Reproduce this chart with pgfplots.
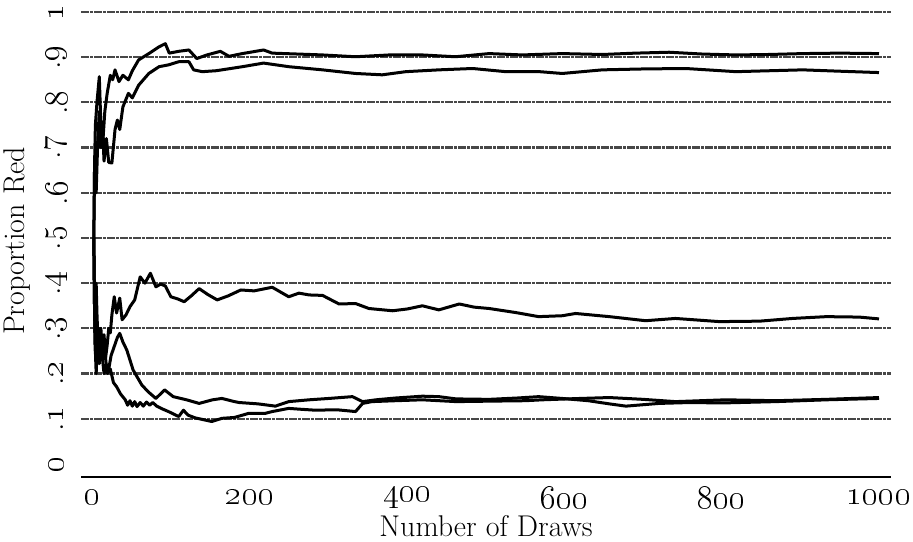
\documentclass[border=0pt]{standalone}
\usepackage{pgfplots}
\pgfplotsset{compat=1.18}
\usetikzlibrary{calc}
\tikzset{myline/.style={black, solid, line width=1.5pt, line join=round, mark=none}}
\begin{document}
\begin{tikzpicture}
\begin{axis}[
  name=ax,
  scale only axis,
  width=405pt, height=236pt,
  xmin=-15.3, xmax=1015.3,
  ymin=-0.0288, ymax=1.0155,
  enlargelimits=false,
  separate axis lines,
  axis x line*=bottom,
  axis y line*=left,
  y axis line style={draw=none},
  x axis line style={line width=0.7pt},
  xtick={0,200,400,600,800,1000},
  xticklabels={\oldstylenums{0},\oldstylenums{200},\oldstylenums{400},\oldstylenums{600},\oldstylenums{800},\oldstylenums{1000}},
  ytick={0.1,0.2,0.3,0.4,0.5,0.6,0.7,0.8,0.9,1},
  yticklabels={.\oldstylenums{1},.\oldstylenums{2},.\oldstylenums{3},.\oldstylenums{4},.\oldstylenums{5},.\oldstylenums{6},.\oldstylenums{7},.\oldstylenums{8},.\oldstylenums{9},\oldstylenums{1}},
  extra y ticks={0},
  extra y tick labels={\oldstylenums{0}},
  extra y tick style={grid=none},
  ymajorgrids,
  major grid style={black!72, line width=1.1pt, dash pattern=on 4pt off 0.5pt on 1.5pt off 0.5pt},
  tick style={draw=none},
  xticklabel style={anchor=center, inner sep=0pt, yshift=-10pt, font=\fontsize{16}{18}\selectfont},
  yticklabel style={xshift=-12.5pt, rotate=90, anchor=center, inner sep=0pt, font=\fontsize{17}{19}\selectfont},
  xlabel={Number of Draws},
  ylabel={Proportion Red},
  xlabel style={at={(axis description cs:0.5,0)}, anchor=center, inner sep=0pt, yshift=-24.5pt, font=\fontsize{15}{17}\selectfont},
  ylabel style={at={(axis description cs:-0.079,0.5)}, anchor=center, inner sep=0pt, font=\fontsize{15}{17}\selectfont},
]
% Series A (upper, ~0.91)
\addplot[myline] coordinates {(1,0.5) (2,0.667) (3,0.75) (5,0.8) (8,0.857) (10,0.75) (12,0.7) (15,0.78) (18,0.82) (22,0.86) (25,0.85) (28,0.872) (33,0.846) (38,0.86) (45,0.85) (50,0.87) (58,0.894) (71,0.908) (84,0.923) (92,0.93) (97,0.909) (109,0.913) (122,0.916) (132,0.897) (145,0.905) (162,0.913) (173,0.902) (190,0.908) (217,0.916) (228,0.909) (260,0.907) (292,0.905) (334,0.901) (377,0.905) (419,0.905) (461,0.901) (504,0.908) (546,0.905) (597,0.908) (648,0.906) (690,0.909) (733,0.911) (775,0.907) (818,0.905) (860,0.906) (903,0.908) (950,0.909) (1000,0.908)};
% Series B (~0.87)
\addplot[myline] coordinates {(1,0.5) (2,0.667) (4,0.6) (6,0.714) (8,0.78) (10,0.7) (12,0.75) (14,0.67) (17,0.72) (20,0.667) (24,0.666) (28,0.74) (31,0.761) (34,0.74) (38,0.79) (45,0.82) (50,0.81) (58,0.838) (71,0.864) (84,0.879) (96,0.883) (109,0.89) (122,0.89) (128,0.872) (139,0.868) (156,0.87) (164,0.872) (190,0.879) (217,0.887) (249,0.879) (292,0.872) (334,0.864) (368,0.861) (398,0.868) (440,0.872) (483,0.875) (525,0.868) (568,0.868) (597,0.864) (648,0.872) (700,0.874) (754,0.875) (818,0.868) (860,0.870) (903,0.872) (950,0.869) (1000,0.866)};
% Series C (~0.32)
\addplot[myline] coordinates {(1,0.5) (2,0.333) (3,0.25) (4,0.4) (5,0.333) (6,0.286) (8,0.25) (10,0.3) (12,0.25) (14,0.286) (16,0.235) (18,0.263) (20,0.3) (22,0.29) (24,0.33) (27,0.37) (30,0.334) (34,0.367) (37,0.319) (42,0.33) (47,0.348) (53,0.363) (60,0.414) (66,0.4) (73,0.422) (80,0.392) (86,0.398) (92,0.394) (99,0.37) (108,0.365) (116,0.359) (125,0.372) (135,0.388) (146,0.375) (158,0.363) (172,0.372) (188,0.385) (205,0.383) (228,0.391) (249,0.37) (262,0.378) (275,0.374) (292,0.373) (313,0.354) (334,0.355) (351,0.344) (381,0.339) (400,0.343) (419,0.35) (440,0.341) (466,0.354) (485,0.347) (504,0.344) (538,0.335) (567,0.326) (597,0.328) (614,0.333) (657,0.326) (703,0.317) (741,0.322) (797,0.315) (848,0.316) (890,0.322) (933,0.326) (975,0.325) (1000,0.321)};
% Series D (peak ~0.29 early, ~0.14)
\addplot[myline] coordinates {(1,0.5) (2,0.333) (3,0.25) (5,0.3) (7,0.25) (9,0.3) (11,0.25) (14,0.2) (17,0.22) (20,0.21) (23,0.24) (27,0.26) (31,0.28) (34,0.289) (38,0.27) (43,0.252) (51,0.208) (62,0.175) (70,0.16) (80,0.145) (91,0.164) (102,0.149) (119,0.142) (135,0.134) (152,0.142) (164,0.145) (180,0.138) (186,0.136) (210,0.133) (232,0.128) (249,0.138) (275,0.142) (300,0.145) (330,0.149) (343,0.138) (360,0.142) (385,0.146) (419,0.15) (440,0.149) (462,0.144) (504,0.143) (540,0.146) (567,0.149) (597,0.145) (630,0.14) (657,0.133) (678,0.128) (720,0.134) (760,0.136) (800,0.135) (869,0.138) (933,0.142) (1000,0.145)};
% Series E (low, ~0.1 then ~0.14)
\addplot[myline] coordinates {(1,0.5) (2,0.333) (3,0.25) (4,0.2) (6,0.286) (8,0.222) (10,0.273) (12,0.231) (15,0.25) (18,0.2) (22,0.21) (26,0.18) (30,0.171) (35,0.155) (41,0.142) (44,0.13) (47,0.14) (50,0.128) (53,0.138) (56,0.127) (60,0.136) (64,0.128) (68,0.137) (72,0.13) (76,0.136) (81,0.128) (88,0.122) (96,0.116) (109,0.105) (115,0.119) (121,0.108) (130,0.102) (138,0.099) (151,0.094) (164,0.101) (180,0.103) (198,0.112) (219,0.112) (228,0.116) (249,0.123) (265,0.121) (283,0.119) (310,0.12) (334,0.116) (343,0.134) (355,0.138) (385,0.14) (419,0.142) (462,0.138) (504,0.139) (550,0.14) (572,0.142) (620,0.145) (657,0.147) (700,0.143) (741,0.138) (805,0.142) (869,0.14) (933,0.143) (1000,0.147)};
\end{axis}
\pgfresetboundingbox
\path ($(ax.south west)+(-40.5pt,-32pt)$) rectangle ($(ax.north east)+(11pt,2.5pt)$);
\end{tikzpicture}
\end{document}
